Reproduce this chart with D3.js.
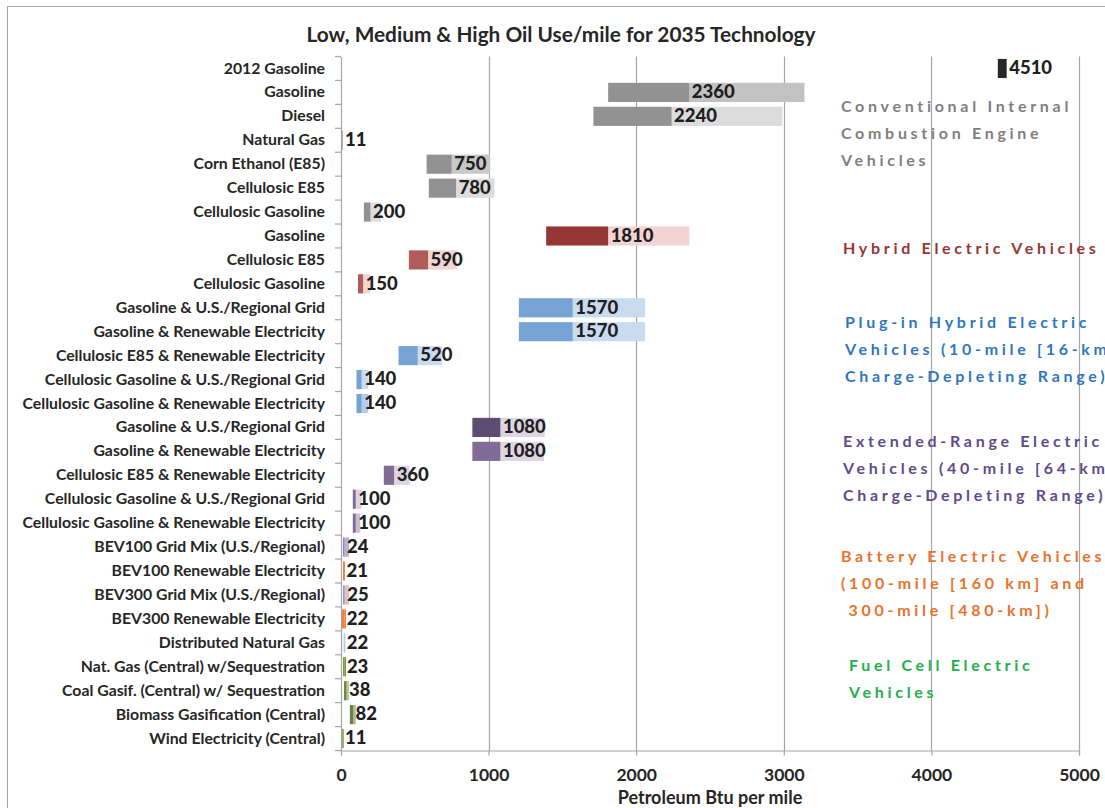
<!DOCTYPE html>
<html>
<head>
<meta charset="utf-8">
<script src="https://cdn.jsdelivr.net/npm/d3@7"></script>
<style>
  html, body { margin: 0; padding: 0; background: #ffffff; }
  svg { display: block; }
  text { font-family: Lato, "Open Sans", "DejaVu Sans", sans-serif; }
</style>
</head>
<body>
<svg id="chart" width="1105" height="808"></svg>
<script>
// ---------- data ----------
const chartTitle = "Low, Medium & High Oil Use/mile for 2035 Technology";
const xAxisTitle = "Petroleum Btu per mile";
const categories = [
  "2012 Gasoline",
  "Gasoline",
  "Diesel",
  "Natural Gas",
  "Corn Ethanol (E85)",
  "Cellulosic E85",
  "Cellulosic Gasoline",
  "Gasoline ",
  "Cellulosic E85 ",
  "Cellulosic Gasoline ",
  "Gasoline & U.S./Regional Grid",
  "Gasoline & Renewable Electricity",
  "Cellulosic E85 & Renewable Electricity",
  "Cellulosic Gasoline & U.S./Regional Grid",
  "Cellulosic Gasoline & Renewable Electricity",
  "Gasoline & U.S./Regional Grid ",
  "Gasoline & Renewable Electricity ",
  "Cellulosic E85 & Renewable Electricity ",
  "Cellulosic Gasoline & U.S./Regional Grid ",
  "Cellulosic Gasoline & Renewable Electricity ",
  "BEV100 Grid Mix (U.S./Regional)",
  "BEV100 Renewable Electricity",
  "BEV300 Grid Mix (U.S./Regional)",
  "BEV300 Renewable Electricity",
  "Distributed Natural Gas",
  "Nat. Gas (Central) w/Sequestration",
  "Coal Gasif. (Central) w/ Sequestration",
  "Biomass Gasification (Central)",
  "Wind Electricity (Central)"
];
const lowValues  = [4450, 1810, 1710, 2, 580, 595, 155, 1390, 460, 115, 1205, 1205, 390, 105, 105, 890, 890, 290, 80, 80, 14, 14, 14, 2, 18, 14, 20, 60, 5];
const midValues  = [4510, 2360, 2240, 11, 750, 780, 200, 1810, 590, 150, 1570, 1570, 520, 140, 140, 1080, 1080, 360, 100, 100, 24, 21, 25, 22, 22, 23, 38, 82, 11];
const highValues = [4510, 3140, 2990, 14, 1010, 1040, 270, 2360, 785, 200, 2060, 2060, 685, 185, 185, 1380, 1375, 465, 140, 130, 54, 27, 54, 34, 29, 34, 54, 100, 20];
const xTickValues = [0, 1000, 2000, 3000, 4000, 5000];

const groupNotes = [
  ["Conventional Internal", "Combustion Engine", "Vehicles"],
  ["Hybrid Electric Vehicles"],
  ["Plug-in Hybrid Electric", "Vehicles (10-mile [16-km]", "Charge-Depleting Range)"],
  ["Extended-Range Electric", "Vehicles (40-mile [64-km]", "Charge-Depleting Range)"],
  ["Battery Electric Vehicles", "(100-mile [160 km] and", " 300-mile [480-km])"],
  ["Fuel Cell Electric", "Vehicles"]
];

// ---------- styles ----------
const darkColors = [
  "#262626",
  "#929292", "#929292", "#929292", "#929292", "#929292", "#929292",
  "#953735", "#b05c5a", "#b05c5a",
  "#77a3d4", "#77a3d4", "#77a3d4", "#77a3d4", "#77a3d4",
  "#5e4d70", "#806c95", "#806c95", "#806c95", "#806c95",
  "#8c7ba6", "#e87a38", "#6f9fd8", "#ee8340", "#a9c4e6",
  "#77933c", "#6f8a40", "#6b8048", "#77933c"
];
const lightColors = [
  "#262626",
  "#c2c2c2", "#dcdcdc", "#bdbdbd", "#c8c8c8", "#dcdcdc", "#dcdcdc",
  "#f2d4d4", "#f2d4d4", "#f2d4d4",
  "#c9dbef", "#c9dbef", "#c9dbef", "#c9dbef", "#b6cdea",
  "#ddd4e4", "#ddd4e4", "#ddd4e4", "#ddd4e4", "#c9bcd7",
  "#bdb2cd", "#e87a38", "#ecbcbc", "#ee8340", "#a9c4e6",
  "#77933c", "#b9c9a0", "#a9bb8c", "#9db27a"
];
const noteColors = ["#7f7f7f", "#953735", "#2f77c0", "#5f4b8b", "#e8732c", "#22b04b"];
const noteStarts = [{x: 841, y: 108}, {x: 843, y: 250}, {x: 845, y: 324}, {x: 843, y: 443}, {x: 841, y: 558}, {x: 849, y: 667}];

// ---------- layout ----------
const svg = d3.select("#chart");
const plotLeft = 341, plotRight = 1079, plotTop = 56.5, plotBottom = 750.5;

const x = d3.scaleLinear().domain([0, 5000]).range([plotLeft, plotRight]);
const y = d3.scaleBand().domain(categories).range([plotTop, plotBottom]).paddingInner(0.2).paddingOuter(0.1);

// chart border
svg.append("rect")
  .attr("x", 7.5).attr("y", 6.5).attr("width", 1200).attr("height", 900)
  .attr("fill", "none").attr("stroke", "#a6a6a6").attr("stroke-width", 1);

// title
svg.append("text")
  .attr("x", 561).attr("y", 41.5)
  .attr("text-anchor", "middle")
  .attr("font-size", 20.8).attr("font-weight", 700).attr("fill", "#262626")
  .text(chartTitle);

// gridlines
svg.append("g").selectAll("line")
  .data(xTickValues.filter(d => d > 0))
  .join("line")
  .attr("x1", d => Math.round(x(d)) + 0.5).attr("x2", d => Math.round(x(d)) + 0.5)
  .attr("y1", plotTop).attr("y2", plotBottom)
  .attr("stroke", "#a6a6a6").attr("stroke-width", 1.2);

// annotations
groupNotes.forEach((lines, gi) => {
  const t = svg.append("text")
    .attr("x", noteStarts[gi].x).attr("y", noteStarts[gi].y)
    .attr("font-size", 16).attr("font-weight", 700)
    .attr("letter-spacing", 3.7)
    .attr("fill", noteColors[gi])
    .attr("dominant-baseline", "middle");
  lines.forEach((ln, li) => {
    t.append("tspan").attr("x", noteStarts[gi].x).attr("dy", li === 0 ? 0 : 27.2)
      .attr("xml:space", "preserve").style("white-space", "pre").text(ln);
  });
});

// bars
const rows = categories.map((c, i) => ({c, i, lo: lowValues[i], mid: midValues[i], hi: highValues[i]}));
const barG = svg.append("g");
barG.selectAll("rect.light")
  .data(rows).join("rect").attr("class", "light")
  .attr("x", d => x(d.mid)).attr("width", d => Math.max(0, x(d.hi) - x(d.mid)))
  .attr("y", d => y(d.c)).attr("height", y.bandwidth())
  .attr("fill", d => lightColors[d.i]);
barG.selectAll("rect.dark")
  .data(rows).join("rect").attr("class", "dark")
  .attr("x", d => x(d.lo)).attr("width", d => Math.max(1, x(d.mid) - x(d.lo)))
  .attr("y", d => y(d.c)).attr("height", y.bandwidth())
  .attr("fill", d => darkColors[d.i]);

// value labels
svg.append("g").selectAll("text")
  .data(rows).join("text")
  .attr("x", d => x(d.mid) + 2.5)
  .attr("y", d => y(d.c) + y.bandwidth() / 2 + 1)
  .attr("dominant-baseline", "middle")
  .attr("font-size", 18.5).attr("font-weight", 900).attr("fill", "#1f1f1f")
  .text(d => d.mid);

// left axis
const yAxis = svg.append("g").attr("transform", `translate(${plotLeft},0)`)
  .call(d3.axisLeft(y).tickSize(0).tickPadding(16).tickFormat(d => d.trim()));
yAxis.select(".domain").attr("stroke", "#a6a6a6").attr("stroke-width", 1.2);
yAxis.selectAll("text").attr("font-size", 15.8).attr("font-weight", 700).attr("fill", "#262626")
  .attr("font-family", "Lato, 'Open Sans', sans-serif");
// boundary ticks
svg.append("g").selectAll("line")
  .data(d3.range(categories.length + 1))
  .join("line")
  .attr("x1", plotLeft - 6).attr("x2", plotLeft)
  .attr("y1", k => plotTop + k * (plotBottom - plotTop) / categories.length)
  .attr("y2", k => plotTop + k * (plotBottom - plotTop) / categories.length)
  .attr("stroke", "#a6a6a6").attr("stroke-width", 1.2);

// bottom axis
const xAxis = svg.append("g").attr("transform", `translate(0,${plotBottom})`)
  .call(d3.axisBottom(x).tickValues(xTickValues).tickSize(5).tickPadding(13).tickFormat(d3.format("d")));
xAxis.select(".domain").attr("stroke", "#a6a6a6").attr("stroke-width", 1.2);
xAxis.selectAll(".tick line").attr("stroke", "#a6a6a6").attr("stroke-width", 1.2);
xAxis.selectAll("text").attr("font-size", 17.5).attr("font-weight", 700).attr("fill", "#262626")
  .attr("font-family", "Lato, 'Open Sans', sans-serif");

svg.append("text")
  .attr("x", 710).attr("y", 804)
  .attr("text-anchor", "middle")
  .attr("font-size", 18).attr("font-weight", 700).attr("fill", "#262626")
  .text(xAxisTitle);
</script>
</body>
</html>
